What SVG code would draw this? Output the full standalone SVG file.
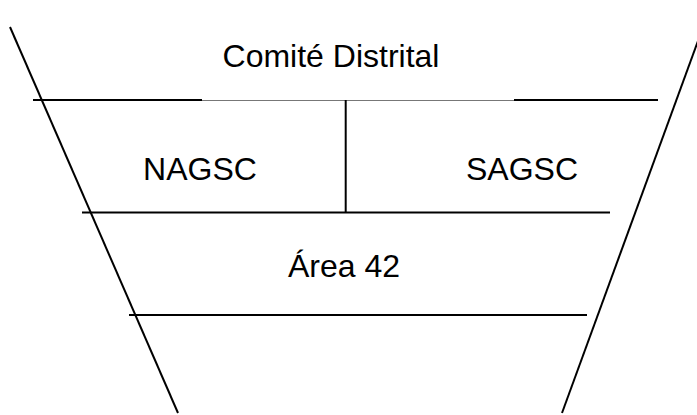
<svg xmlns="http://www.w3.org/2000/svg" width="697" height="415" viewBox="0 0 697 415">
<style>
.l{stroke:#000;stroke-width:2;fill:none}
.g{stroke:#777;stroke-width:1.2;fill:none}
.t{font-family:"Liberation Sans",Arial,sans-serif;font-size:32px;fill:#000;text-anchor:middle}
</style>
<rect width="697" height="415" fill="#fff"/>
<g id="connectors">
<line class="l" x1="10" y1="27" x2="178" y2="413"/>
<line class="l" x1="702" y1="30" x2="562" y2="413"/>
<line class="g" x1="202" y1="100.5" x2="514" y2="100.5"/>
<line class="l" x1="33" y1="100" x2="202" y2="100"/>
<line class="l" x1="514" y1="100" x2="658" y2="100"/>
<line class="l" x1="345.7" y1="100" x2="345.7" y2="212"/>
<line class="l" x1="82" y1="212.5" x2="610" y2="212.5"/>
<line class="l" x1="129" y1="315" x2="587" y2="315"/>
</g>
<g id="comite"><text class="t" x="331" y="66.5">Comité Distrital</text></g>
<g id="nagsc"><text class="t" x="200" y="180">NAGSC</text></g>
<g id="sagsc"><text class="t" x="522" y="180">SAGSC</text></g>
<g id="area42"><text class="t" x="344" y="277">Área 42</text></g>
</svg>
